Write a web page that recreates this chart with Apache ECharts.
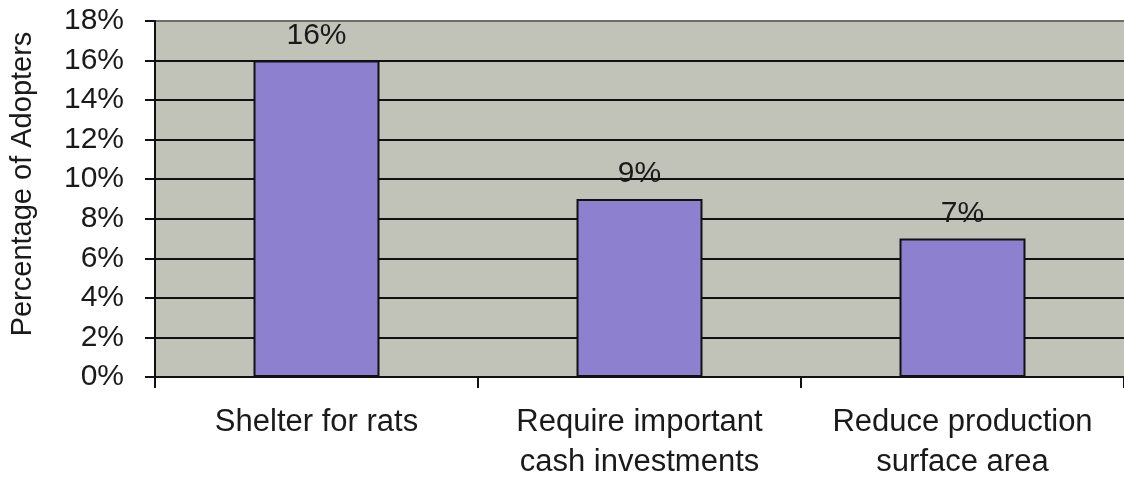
<!DOCTYPE html>
<html>
<head>
<meta charset="utf-8">
<script src="https://cdn.jsdelivr.net/npm/echarts@6/dist/echarts.min.js"></script>
<style>html,body{margin:0;padding:0;background:#fff;}#c{width:1124px;height:482px;}</style>
</head>
<body>
<div id="c"></div>
<script>
const categories = ['Shelter for rats', 'Require important\ncash investments', 'Reduce production\nsurface area'];
const values = [16, 9, 7];
const yAxisTitle = 'Percentage of Adopters';

const chart = echarts.init(document.getElementById('c'), null, {renderer: 'canvas'});
const font = 'Liberation Sans, Arial, sans-serif';
chart.setOption({
  animation: false,
  backgroundColor: '#ffffff',
  grid: {left: 152, right: 0, top: 21, bottom: 103, show: true, backgroundColor: '#c1c3b8', borderWidth: 0},
  xAxis: {
    type: 'category',
    data: categories,
    axisLine: {show: true, lineStyle: {color: '#111', width: 2}},
    axisTick: {show: true, interval: 0, length: 11, lineStyle: {color: '#111', width: 2}},
    axisLabel: {interval: 0, color: '#1a1a1a', fontFamily: font, fontSize: 31, lineHeight: 40, margin: 25}
  },
  yAxis: {
    type: 'value',
    min: 0, max: 18, interval: 2,
    name: yAxisTitle,
    nameLocation: 'middle',
    nameGap: 118,
    nameTextStyle: {color: '#1a1a1a', fontFamily: font, fontSize: 29, padding: [0, 0, 0, 30]},
    axisLine: {show: true, lineStyle: {color: '#111', width: 2}},
    axisTick: {show: true, length: 10, lineStyle: {color: '#111', width: 2}},
    axisLabel: {color: '#1a1a1a', fontFamily: font, fontSize: 30, margin: 31, formatter: '{value}%'},
    splitLine: {show: true, lineStyle: {color: ['#111','#111','#111','#111','#111','#111','#111','#111','#111','#6d6d68'], width: 2}}
  },
  series: [{
    type: 'bar',
    data: values,
    barWidth: '39%',
    itemStyle: {color: '#8d80cf', borderColor: '#111', borderWidth: 2},
    label: {show: true, position: 'top', distance: 10, formatter: '{c}%', color: '#1a1a1a', fontFamily: font, fontSize: 30}
  }]
});
</script>
</body>
</html>
